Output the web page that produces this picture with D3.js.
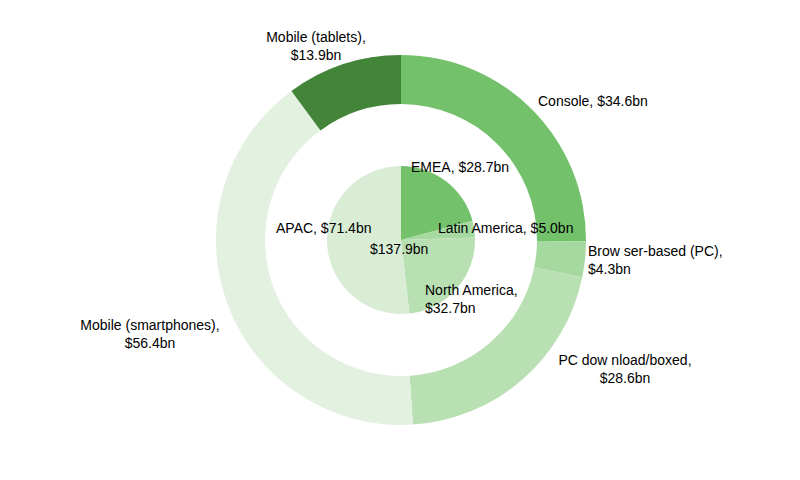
<!DOCTYPE html>
<html><head><meta charset="utf-8">
<script src="https://cdn.jsdelivr.net/npm/d3@7"></script>
<style>body{margin:0;background:#fff}text{font-family:"Liberation Sans",Arial,sans-serif;font-size:14px;fill:#000}</style>
</head><body><svg id="chart" width="800" height="480"></svg>
<script>
// outer ring: platforms
const platforms = ['Console', 'Browser-based (PC)', 'PC download/boxed', 'Mobile (smartphones)', 'Mobile (tablets)'];
const platformValues = [34.6, 4.3, 28.6, 56.4, 13.9];
const platformColors = ['#74c16c', '#a6d9a0', '#b9e0b2', '#e3f2e0', '#428538'];
// inner pie: regions
const regions = ['EMEA', 'Latin America', 'North America', 'APAC'];
const regionValues = [28.7, 5.0, 32.7, 71.4];
const regionColors = ['#74c16c', '#a6d9a0', '#b9e0b2', '#d9edd5'];
// labels: lines, x, y, anchor
const labels = [
  [['Mobile (tablets),', '$13.9bn'], 316, 42, 'middle'],
  [['Console, $34.6bn'], 538, 106, 'start'],
  [['EMEA, $28.7bn'], 411, 172, 'start'],
  [['Latin America, $5.0bn'], 438, 233, 'start'],
  [['Brow ser-based (PC),', '$4.3bn'], 588, 256, 'start'],
  [['APAC, $71.4bn'], 276, 233, 'start'],
  [['$137.9bn'], 370, 254, 'start'],
  [['North America,', '$32.7bn'], 425, 295, 'start'],
  [['Mobile (smartphones),', '$56.4bn'], 150, 330, 'middle'],
  [['PC dow nload/boxed,', '$28.6bn'], 625, 365, 'middle']
];

const svg = d3.select('#chart');
const g = svg.append('g').attr('transform', 'translate(401,240)');
const pie = d3.pie().sort(null).value(d => d);

g.selectAll('.outer').data(pie(platformValues)).enter().append('path')
  .attr('d', d3.arc().innerRadius(136).outerRadius(185))
  .attr('fill', (d, i) => platformColors[i]);

g.selectAll('.inner').data(pie(regionValues)).enter().append('path')
  .attr('d', d3.arc().innerRadius(0).outerRadius(74))
  .attr('fill', (d, i) => regionColors[i]);

labels.forEach(l => {
  const t = svg.append('text').attr('text-anchor', l[3]);
  l[0].forEach((s, i) => t.append('tspan').attr('x', l[1]).attr('y', l[2] + i * 18).text(s));
});
</script></body></html>
